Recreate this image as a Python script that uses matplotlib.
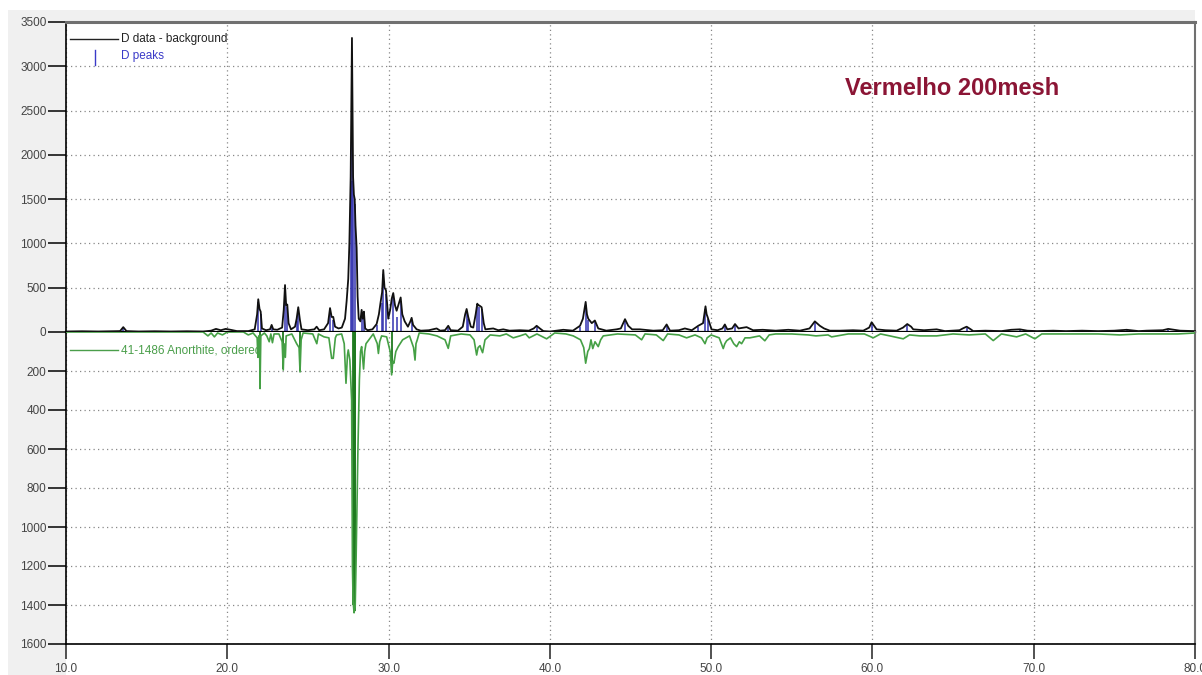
"""
plot.py

XRD pattern, Vermelho 200mesh: measured data minus background (top)
against the 41-1486 Anorthite reference pattern drawn downwards (bottom).

Output: out.png
"""

import matplotlib.pyplot as plt
from matplotlib.patches import Rectangle

# measured pattern (2-theta, counts after background removal)
data_x = [
    10.0, 11.0, 12.0, 13.0, 13.35, 13.55, 13.75, 14.5, 15.5, 16.5, 17.5, 18.5,
    19.0, 19.3, 19.6, 19.9, 20.2, 20.6, 21.3, 21.7, 21.85, 21.92, 22.0, 22.07,
    22.15, 22.4, 22.65, 22.75, 22.85, 23.1, 23.4, 23.5, 23.58, 23.65, 23.72,
    23.8, 23.95, 24.2, 24.3, 24.4, 24.5, 24.6, 25.0, 25.4, 25.54, 25.7, 26.0,
    26.25, 26.37, 26.47, 26.57, 26.68, 26.9, 27.1, 27.3, 27.4, 27.5, 27.57,
    27.65, 27.70, 27.73, 27.76, 27.80, 27.85, 27.90, 27.95, 28.02, 28.08,
    28.15, 28.25, 28.33, 28.40, 28.47, 28.55, 28.7, 29.0, 29.26, 29.4, 29.5,
    29.6, 29.67, 29.75, 29.84, 29.92, 29.98, 30.1, 30.2, 30.29, 30.4, 30.5,
    30.6, 30.75, 30.85, 31.0, 31.2, 31.35, 31.43, 31.52, 31.74, 32.0, 32.5,
    32.98, 33.2, 33.5, 33.70, 33.85, 34.3, 34.6, 34.75, 34.84, 34.94, 35.1,
    35.25, 35.4, 35.50, 35.56, 35.62, 35.70, 35.77, 35.9, 36.0, 36.49, 36.8,
    37.11, 37.5, 38.14, 38.7, 39.0, 39.18, 39.38, 39.6, 40.0, 40.83, 41.43,
    41.87, 42.05, 42.22, 42.30, 42.38, 42.6, 42.79, 43.0, 43.5, 44.14, 44.4,
    44.66, 44.86, 45.1, 45.58, 46.41, 47.0, 47.24, 47.45, 48.0, 48.37, 48.8,
    49.20, 49.5, 49.65, 49.72, 49.78, 50.02, 50.4, 50.7, 50.85, 51.0, 51.3,
    51.48, 51.7, 52.2, 52.6, 53.2, 54.0, 54.78, 55.5, 56.1, 56.43, 56.74,
    57.0, 57.36, 57.99, 58.8, 59.43, 59.8, 59.95, 60.26, 60.8, 61.50, 61.9,
    62.16, 62.4, 62.53, 63.2, 63.98, 64.5, 65.4, 65.6, 65.84, 66.1, 66.25,
    67.0, 68.0, 68.6, 69.14, 69.6, 70.2, 71.21, 72.0, 73.0, 74.0, 75.0,
    75.76, 76.5, 77.0, 78.0, 78.34, 78.7, 79.07, 80.0,
]
data_y = [
    5, 8, 5, 8, 10, 55, 10, 5, 8, 5, 8, 5,
    15, 35, 20, 35, 25, 10, 10, 30, 200, 370, 260, 230,
    40, 20, 30, 80, 30, 25, 50, 250, 530, 300, 310,
    100, 30, 60, 150, 280, 140, 30, 20, 30, 60, 20, 30,
    100, 270, 170, 170, 60, 40, 50, 150, 350, 600, 1000,
    1750, 2800, 3320, 2600, 1750, 1550, 1500, 1200, 950, 400,
    150, 120, 250, 150, 230, 40, 20, 30, 90, 200, 330,
    450, 700, 500, 470, 300, 150, 250, 380, 440, 300, 240,
    300, 390, 200, 120, 60, 120, 160, 80, 30, 15, 20,
    40, 15, 20, 70, 20, 15, 60, 200, 260, 170, 60,
    50, 200, 320, 300, 300, 290, 280, 100, 30, 40, 20,
    30, 15, 20, 15, 40, 70, 40, 10, 5, 25, 15,
    70, 150, 340, 200, 150, 100, 130, 40, 15, 30, 40,
    145, 70, 30, 30, 15, 20, 85, 15, 20, 40, 20,
    70, 100, 290, 200, 170, 30, 20, 40, 85, 30, 40,
    90, 40, 55, 20, 25, 15, 25, 15, 40, 120, 70,
    40, 15, 15, 20, 15, 50, 110, 30, 20, 15, 50,
    90, 60, 30, 20, 30, 10, 20, 40, 60, 30, 10,
    15, 10, 25, 30, 15, 10, 15, 10, 15, 10, 15,
    25, 10, 15, 20, 35, 25, 15, 10,
]

# fitted peaks (position, height)
peak_x = [
    13.55, 19.6, 21.92, 22.07, 22.75, 23.58, 23.70, 24.30, 24.40, 26.37,
    26.57, 27.65, 27.73, 27.80, 27.90, 28.33, 28.47, 29.26, 29.60, 29.67,
    29.84, 30.29, 30.50, 30.75, 31.43, 33.70, 34.84, 34.94, 35.50, 35.62,
    35.77, 39.18, 41.87, 42.22, 42.38, 42.79, 44.66, 47.24, 49.20, 49.65,
    49.78, 50.85, 51.48, 56.43, 59.95, 62.16, 65.84, 69.14, 75.76, 78.34,
]
peak_h = [
    50, 25, 340, 200, 60, 500, 280, 120, 260, 240,
    140, 1700, 2850, 1700, 1450, 220, 170, 80, 330, 650,
    430, 400, 170, 350, 140, 50, 240, 150, 290, 280,
    260, 60, 60, 310, 140, 110, 130, 70, 60, 260,
    150, 70, 80, 110, 90, 80, 50, 20, 20, 25,
]

# reference pattern 41-1486 Anorthite, ordered (drawn downwards)
ref_x = [
    10.0, 18.5, 18.8, 19.0, 19.2, 19.4, 19.7, 20.0, 21.0, 21.3, 21.6, 21.85,
    21.9, 21.95, 22.0, 22.03, 22.08, 22.3, 22.45, 22.6, 22.7, 22.8, 22.9,
    23.2, 23.4, 23.47, 23.52, 23.6, 23.65, 24.0, 24.3, 24.45, 24.51, 24.58,
    24.7, 25.3, 25.55, 25.65, 26.0, 26.3, 26.47, 26.57, 26.7, 26.78, 27.09,
    27.25, 27.36, 27.45, 27.5, 27.6, 27.71, 27.76, 27.80, 27.86, 27.93,
    27.98, 28.04, 28.10, 28.19, 28.26, 28.33, 28.45, 28.52, 28.6, 29.05,
    29.3, 29.37, 29.45, 29.57, 29.88, 30.1, 30.19, 30.26, 30.33, 30.45,
    30.6, 30.87, 31.3, 31.55, 31.64, 31.70, 31.78, 31.9, 32.5, 33.0, 33.5,
    33.70, 33.85, 34.5, 35.05, 35.3, 35.46, 35.55, 35.67, 35.75, 35.83,
    35.98, 36.3, 36.9, 37.3, 37.73, 38.14, 38.5, 38.72, 39.2, 39.80, 40.3,
    41.0, 41.45, 41.9, 42.1, 42.22, 42.35, 42.45, 42.55, 42.66, 42.8, 43.0,
    43.15, 43.31, 44.2, 45.3, 45.69, 45.9, 46.6, 47.03, 47.3, 48.0, 48.48,
    49.0, 49.4, 49.62, 49.75, 50.0, 50.5, 50.75, 50.85, 50.96, 51.2, 51.4,
    51.58, 51.75, 51.89, 52.1, 52.4, 53.0, 53.33, 53.6, 54.0, 55.0, 56.0,
    56.5, 57.25, 57.47, 58.5, 59.5, 60.05, 60.5, 61.08, 61.91, 62.3, 62.95,
    63.98, 65.0, 66.0, 67.0, 67.49, 68.0, 68.94, 69.5, 70.07, 70.5, 72.0,
    74.0, 75.34, 76.5, 78.0, 78.94, 80.0,
]
ref_y = [
    0, 0, 20, 5, 25, 5, 15, 0, 0, 15, 5, 30,
    130, 20, 20, 290, 20, 5, 20, 50, 10, 55, 10,
    10, 50, 195, 60, 130, 20, 10, 60, 80, 205, 40,
    5, 10, 60, 10, 25, 30, 135, 135, 30, 15, 10,
    60, 263, 120, 92, 144, 350, 1200, 1380, 1440, 1410,
    1200, 900, 600, 246, 100, 75, 190, 100, 60, 10,
    60, 110, 50, 20, 25, 100, 220, 150, 160, 100,
    75, 40, 20, 80, 144, 60, 40, 5, 10, 20, 40,
    84, 20, 10, 15, 40, 118, 80, 70, 90, 106,
    40, 15, 20, 10, 30, 20, 10, 30, 10, 35, 5,
    10, 20, 40, 80, 160, 100, 85, 40, 85, 50, 75,
    40, 20, 10, 15, 40, 10, 15, 44, 10, 15, 30,
    15, 30, 60, 30, 15, 30, 85, 60, 45, 30, 60,
    75, 50, 60, 30, 30, 20, 45, 15, 10, 10, 15,
    20, 15, 25, 10, 10, 30, 10, 20, 35, 15, 20,
    20, 10, 15, 10, 44, 10, 25, 10, 35, 10, 10,
    10, 15, 10, 10, 10, 5,
]

# reference sticks that show dark in the lower panel
stick_x = [22.03, 23.47, 24.51, 27.82, 27.86, 27.90, 27.94, 30.19]
stick_h = [290, 190, 200, 1400, 1440, 1430, 1380, 210]

top_ticks = [0, 500, 1000, 1500, 2000, 2500, 3000, 3500]
bottom_ticks = [200, 400, 600, 800, 1000, 1200, 1400, 1600]
x_ticks = [10, 20, 30, 40, 50, 60, 70, 80]

plt.rcParams["font.family"] = ["Liberation Sans", "DejaVu Sans"]

W, H = 1202, 675
fig = plt.figure(figsize=(W / 100, H / 100), dpi=100, facecolor="white")

# grey window chrome on the left and on top
fig.add_artist(Rectangle((8 / W, 0), 58 / W, 1 - 10 / H, transform=fig.transFigure,
                         facecolor="#f0f0f0", edgecolor="none", zorder=-5))
fig.add_artist(Rectangle((8 / W, 1 - 22 / H), 1187 / W, 12 / H, transform=fig.transFigure,
                         facecolor="#f0f0f0", edgecolor="none", zorder=-5))

left = 66 / W
width = 1129 / W
ax1 = fig.add_axes([left, 1 - 332 / H, width, 310 / H])
ax2 = fig.add_axes([left, 1 - 644 / H, width, 312 / H])

grid_kw = dict(color="#888888", linestyle=(0, (1, 2.6)), linewidth=0.9)

for ax in (ax1, ax2):
    ax.set_xlim(10, 80)
    ax.set_xticks(x_ticks)
    ax.grid(True, **grid_kw)
    ax.set_axisbelow(True)
    ax.spines["left"].set_color("black")
    ax.spines["left"].set_linewidth(1.2)
    ax.spines["right"].set_color("#707070")
    ax.spines["right"].set_linewidth(1.5)
    ax.tick_params(axis="y", direction="out", length=13, width=1.1, color="black",
                   labelsize=8.5, labelcolor="#444444", pad=1)

# top: measured data
ax1.set_ylim(0, 3500)
ax1.set_yticks(top_ticks)
ax1.spines["top"].set_color("#707070")
ax1.spines["top"].set_linewidth(2.2)
ax1.spines["bottom"].set_color("black")
ax1.spines["bottom"].set_linewidth(1.6)
ax1.tick_params(axis="x", length=0, labelbottom=False)

ax1.vlines(peak_x, 0, peak_h, color="#3333b0", linewidth=1.1, zorder=2)
ax1.plot(data_x, data_y, color="#111111", linewidth=1.3, zorder=3, clip_on=False)

ax1.plot([0.0035, 0.046], [0.945, 0.945], transform=ax1.transAxes, color="#222222", linewidth=1.0)
ax1.text(0.0487, 0.945, "D data - background", transform=ax1.transAxes, fontsize=8.5,
         color="#222222", va="center", ha="left")
ax1.plot([0.0256, 0.0256], [0.86, 0.91], transform=ax1.transAxes, color="#3a3ac8", linewidth=1.0)
ax1.text(0.0487, 0.89, "D peaks", transform=ax1.transAxes, fontsize=8.5,
         color="#3a3ac8", va="center", ha="left")

ax1.text(0.785, 0.787, "Vermelho 200mesh", transform=ax1.transAxes, fontsize=17,
         fontweight="bold", color="#8b1535", ha="center", va="center",
         family=["Liberation Sans Narrow", "Liberation Sans", "DejaVu Sans"])

# bottom: reference pattern, downwards
ax2.set_ylim(1600, 0)
ax2.set_yticks(bottom_ticks)
ax2.spines["top"].set_visible(False)
ax2.spines["bottom"].set_color("black")
ax2.spines["bottom"].set_linewidth(1.2)
ax2.set_xticklabels([f"{t:.1f}" for t in x_ticks])
ax2.tick_params(axis="x", direction="out", length=11, width=1.1, color="#222222",
                labelsize=8.5, labelcolor="#444444", pad=3)

ax2.vlines(stick_x, 0, stick_h, color="#1f7a1f", linewidth=1.3, zorder=2)
ax2.plot(ref_x, ref_y, color="#45a045", linewidth=1.2, zorder=3)

ax2.plot([0.0035, 0.046], [0.942, 0.942], transform=ax2.transAxes, color="#4a9e4a", linewidth=1.0)
ax2.text(0.0487, 0.942, "41-1486 Anorthite, ordered", transform=ax2.transAxes, fontsize=8.5,
         color="#4a9e4a", va="center", ha="left")

fig.savefig("out.png", dpi=100, facecolor=fig.get_facecolor())
